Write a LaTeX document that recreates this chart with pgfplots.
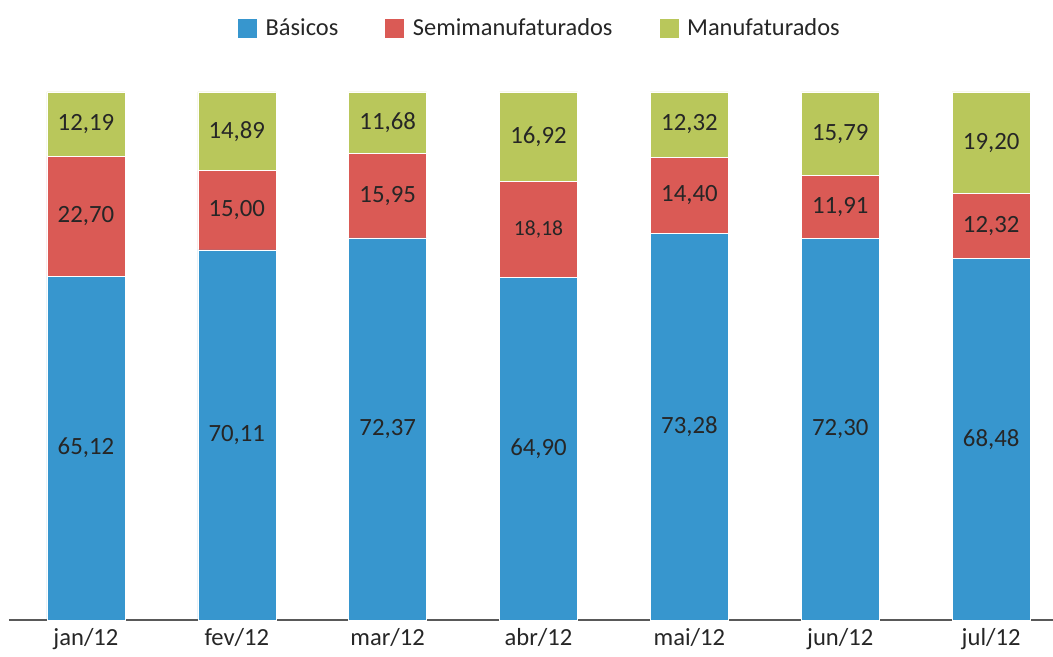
\documentclass[border=0pt]{standalone}
\usepackage{fontspec}
\setmainfont{Carlito}
\usepackage{pgfplots}
\usepackage{pgfplotstable}
\pgfplotsset{compat=1.18}
\definecolor{cB}{RGB}{55,150,206}
\definecolor{cS}{RGB}{218,90,85}
\definecolor{cM}{RGB}{185,199,91}
\definecolor{txt}{RGB}{38,38,38}
\definecolor{axl}{RGB}{89,89,89}

\pgfplotstableread{
x B S M
0 65.12 22.70 12.19
1 70.11 15.00 14.89
2 72.37 15.95 11.68
3 64.90 18.18 16.92
4 73.28 14.40 12.32
5 72.30 11.91 15.79
6 68.48 12.32 19.20
}\data

% label positions (segment midpoints) and texts
\pgfplotstableread{
x y t
0 32.56 65,12
1 35.055 70,11
2 36.185 72,37
3 32.45 64,90
4 36.64 73,28
5 36.15 72,30
6 34.24 68,48
0 76.47 22,70
1 77.61 15,00
2 80.345 15,95
4 80.48 14,40
5 78.255 11,91
6 74.64 12,32
0 93.915 12,19
1 92.555 14,89
2 94.16 11,68
3 91.54 16,92
4 93.84 12,32
5 92.105 15,79
6 90.40 19,20
}\labels

\pgfplotstableread{
x y t
3 73.99 18,18
}\smalllabels

\begin{document}
\begin{tikzpicture}
\useasboundingbox (-4.5pt,-18.5pt) rectangle (522pt,310pt);
\pgfplotsset{
  base/.style={
    at={(0,0)}, anchor=south west,
    scale only axis, width=522pt, height=264pt,
    xmin=-0.51, xmax=6.41, ymin=0, ymax=100,
    clip=false,
  }
}
\begin{axis}[base,
  ybar stacked, bar width=39pt,
  axis x line*=bottom, axis y line=none,
  x axis line style={draw=axl, line width=0.9pt},
  xtick=data, xticklabels={jan/12,fev/12,mar/12,abr/12,mai/12,jun/12,jul/12},
  xtick style={draw=none},
  xticklabel style={font=\fontsize{12.3}{14}\selectfont, text=txt, yshift=-0.5pt},
  ytick=\empty,
  legend columns=3,
  legend style={at={(axis description cs:0.509,1.12)}, anchor=center, draw=none,
    font=\fontsize{12.2}{14}\selectfont, text=txt,
    /tikz/every even column/.style={column sep=21pt}},
  legend image code/.code={\fill[#1] (0pt,-5pt) rectangle (10pt,5pt);},
  legend cell align=left,
]
\addplot[fill=cB, draw=white, line width=0.3pt] table[x=x,y=B]{\data};
\addplot[fill=cS, draw=white, line width=0.3pt] table[x=x,y=S]{\data};
\addplot[fill=cM, draw=white, line width=0.3pt] table[x=x,y=M]{\data};
\legend{\hspace{2pt}Básicos,\hspace{2pt}Semimanufaturados,\hspace{2pt}Manufaturados}
\end{axis}
\begin{axis}[base, hide axis]
\addplot[draw=none, mark=none, only marks, nodes near coords, point meta=explicit symbolic,
  every node near coord/.append style={anchor=center, font=\fontsize{12.4}{14}\selectfont, text=txt}]
  table[x=x,y=y,meta=t]{\labels};
\addplot[draw=none, mark=none, only marks, nodes near coords, point meta=explicit symbolic,
  every node near coord/.append style={anchor=center, font=\fontsize{10.8}{12}\selectfont, text=txt}]
  table[x=x,y=y,meta=t]{\smalllabels};
\end{axis}
\end{tikzpicture}
\end{document}
